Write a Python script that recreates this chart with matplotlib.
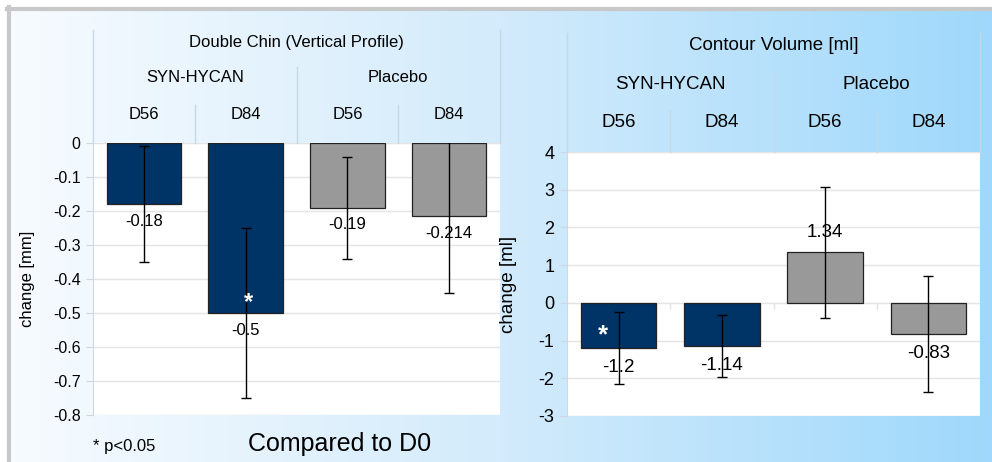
import numpy as np
import matplotlib
matplotlib.use('Agg')
import matplotlib.pyplot as plt
from matplotlib.colors import LinearSegmentedColormap
from matplotlib.lines import Line2D

plt.rcParams['font.family'] = ['Liberation Sans', 'DejaVu Sans']

# data
days = ['D56', 'D84', 'D56', 'D84']
groups = ['SYN-HYCAN', 'Placebo']
chin_vals = [-0.18, -0.5, -0.19, -0.214]
chin_err = [0.17, 0.25, 0.15, 0.226]
chin_labels = ['-0.18', '-0.5', '-0.19', '-0.214']
vol_vals = [-1.2, -1.14, 1.34, -0.83]
vol_err = [0.95, 0.83, 1.73, 1.53]
vol_labels = ['-1.2', '-1.14', '1.34', '-0.83']
chin_ticks = [0, -0.1, -0.2, -0.3, -0.4, -0.5, -0.6, -0.7, -0.8]
vol_ticks = [4, 3, 2, 1, 0, -1, -2, -3]

NAVY = '#003366'
GREY = '#999999'
bar_colors = [NAVY, NAVY, GREY, GREY]
W, H = 992, 462

fig = plt.figure(figsize=(W / 100, H / 100), dpi=100)

# background gradient + grey frame
bg = fig.add_axes([0, 0, 1, 1])
bg.set_xlim(0, W)
bg.set_ylim(H, 0)
bg.axis('off')
cmap = LinearSegmentedColormap.from_list('bg', ['#f7fbff', '#d3ebfb', '#9fd8fc'])
grad = np.linspace(0, 1, 256).reshape(1, -1)
bg.imshow(grad, cmap=cmap, aspect='auto', extent=[10, W, H, 10], zorder=0)
bg.add_line(Line2D([7, W], [8.5, 8.5], color='#c8c8c8', lw=3))
bg.add_line(Line2D([8.5, 8.5], [7, H], color='#c8c8c8', lw=3))


def draw_panel(box, vals, errs, labels, ticks, title, ylabel, fs, lab_off,
               star, head):
    x0, x1, ytop, ybot = box
    ax = fig.add_axes([x0 / W, 1 - ybot / H, (x1 - x0) / W, (ybot - ytop) / H])
    ax.set_facecolor('white')
    x = np.arange(len(vals))
    ax.bar(x, vals, width=0.73, color=bar_colors, edgecolor='#222222',
           linewidth=0.9, zorder=3)
    ax.errorbar(x, vals, yerr=errs, fmt='none', ecolor='black', elinewidth=1,
                capsize=3.6, capthick=1, zorder=4)
    for i, (v, t) in enumerate(zip(vals, labels)):
        off = lab_off if v > 0 else -lab_off
        ax.annotate(t, (i, v), xytext=(0, off), textcoords='offset points',
                    ha='center', va='center', fontsize=fs, zorder=5)
    si, sx, sy = star
    ax.text(si + sx, sy, '*', color='white', ha='center', va='center',
            fontsize=fs + 5, fontweight='bold', zorder=5)
    ax.set_xlim(-0.5, len(vals) - 0.5)
    ax.set_ylim(min(ticks), max(ticks))
    ax.set_yticks(ticks)
    ax.set_yticklabels([('%g' % t) for t in ticks], fontsize=fs - 0.5)
    ax.set_xticks([])
    ax.grid(axis='y', color='#e4e4e4', lw=1, zorder=0)
    for s in ['top', 'right', 'bottom']:
        ax.spines[s].set_visible(False)
    ax.spines['left'].set_color('#cfd8e0')
    ax.tick_params(axis='y', length=5, color='#cfd8e0', pad=4)
    ax.set_ylabel(ylabel, fontsize=fs)

    # category header above the plot
    hpx = ybot - ytop
    fy = lambda py: (ybot - py) / hpx
    tr = ax.get_xaxis_transform()
    t_y, g_y, d_y, t_top, g_top, d_top = head
    lc = '#c4d8e6'
    for xx, yy in [(-0.5, t_top), (3.5, t_top), (1.5, g_top), (0.5, d_top), (2.5, d_top)]:
        ax.add_line(Line2D([xx, xx], [1, fy(yy)], transform=tr, color=lc,
                           lw=1, clip_on=False))
    ax.text(1.5, fy(t_y), title, transform=tr, ha='center', va='center',
            fontsize=fs)
    for j, g in enumerate(groups):
        ax.text(0.5 + 2 * j, fy(g_y), g, transform=tr, ha='center',
                va='center', fontsize=fs)
    for i, d in enumerate(days):
        ax.text(i, fy(d_y), d, transform=tr, ha='center', va='center',
                fontsize=fs)
    return ax


ax1 = draw_panel((93, 500, 143, 415), chin_vals, chin_err, chin_labels,
                 chin_ticks, 'Double Chin (Vertical Profile)', 'change [mm]',
                 12, 12.5, (1, 0.03, -0.47), (43, 78, 115, 30, 67, 105))
ax1.yaxis.set_label_coords(-(93 - 35) / 407, 0.5)

ax2 = draw_panel((567, 980, 152, 416), vol_vals, vol_err, vol_labels,
                 vol_ticks, 'Contour Volume [ml]', 'change [ml]',
                 13.5, 14, (0, -0.15, -0.85), (45, 84, 122, 33, 72, 110))
ax2.yaxis.set_label_coords(-(567 - 517) / 413, 0.5)
# small category ticks on the zero line
for xx in [0.5, 1.5, 2.5]:
    ax2.plot([xx, xx], [0, -0.15], color='#e4e4e4', lw=1, zorder=1)

fig.text(93 / W, 1 - 447 / H, '* p<0.05', fontsize=12, ha='left', va='center')
fig.text(340 / W, 1 - 444 / H, 'Compared to D0', fontsize=18, ha='center',
         va='center')

fig.savefig('out.png', dpi=100)
